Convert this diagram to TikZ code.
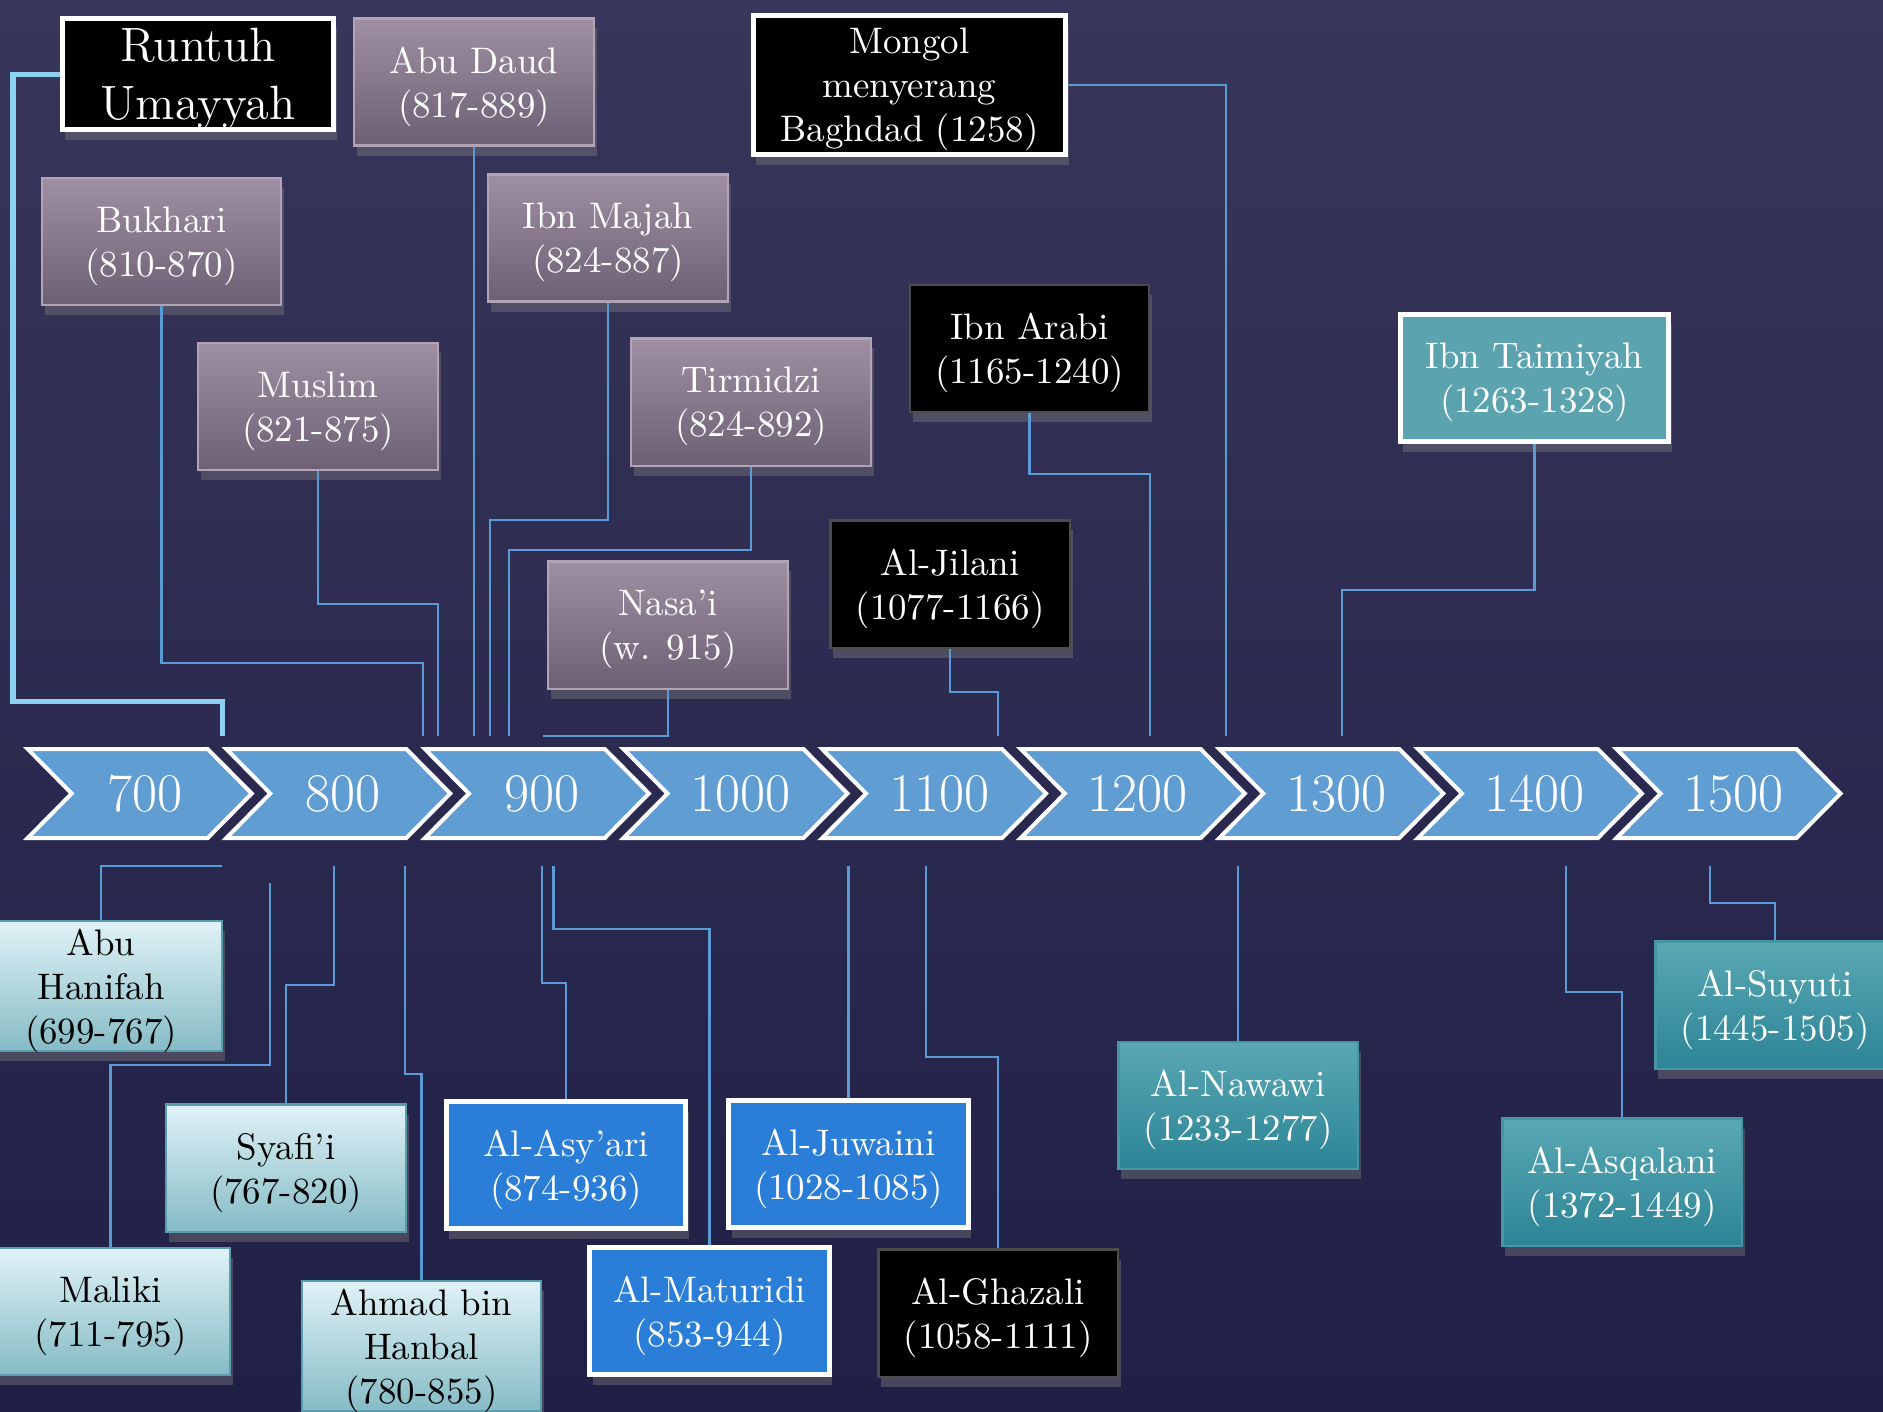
\documentclass[tikz,border=0pt]{standalone}
\usepackage{tikz}
\usetikzlibrary{shadows}

\definecolor{bgtop}{RGB}{56,54,90}
\definecolor{bgbot}{RGB}{32,31,70}
\definecolor{chevblue}{RGB}{96,157,210}
\definecolor{linkblue}{RGB}{91,155,213}
\definecolor{runtuhline}{RGB}{140,208,243}
\definecolor{mauvetop}{RGB}{158,143,163}
\definecolor{mauvebot}{RGB}{110,96,116}
\definecolor{mauveedge}{RGB}{178,164,182}
\definecolor{icetop}{RGB}{224,242,247}
\definecolor{icebot}{RGB}{133,187,197}
\definecolor{iceedge}{RGB}{88,158,172}
\definecolor{tealtop}{RGB}{90,168,180}
\definecolor{tealbot}{RGB}{44,132,150}
\definecolor{tealedge}{RGB}{70,150,165}
\definecolor{tealflat}{RGB}{92,163,176}
\definecolor{kalamblue}{RGB}{43,126,215}

\begin{document}
\begin{tikzpicture}[x=0.01cm,y=-0.01cm]
\tikzset{every node/.style={align=center,inner sep=0pt,font=\fontsize{10.5}{12.5}\selectfont}}
\tikzset{box/.style={minimum width=2.39cm,minimum height=1.27cm,text=white,text depth=0pt,
  drop shadow={opacity=0.4,shadow xshift=0.03cm,shadow yshift=-0.1cm}}}
\tikzset{hadithbox/.style={box,top color=mauvetop,bottom color=mauvebot,draw=mauveedge,line width=0.6pt}}
\tikzset{eventbox/.style={box,fill=black,draw=white,line width=0.05cm}}
\tikzset{sufibox/.style={box,fill=black,draw=black!70!white,line width=0.6pt}}
\tikzset{fiqhbox/.style={box,text=black,top color=icetop,bottom color=icebot,draw=iceedge,line width=0.6pt}}
\tikzset{kalambox/.style={box,fill=kalamblue,draw=white,line width=0.05cm}}
\tikzset{laterbox/.style={box,top color=tealtop,bottom color=tealbot,draw=tealedge,line width=0.6pt}}
\tikzset{chevron/.style={fill=chevblue,draw=white,line width=0.04cm}}
\tikzset{yearlabel/.style={text=white,font=\fontsize{15.5}{18}\selectfont}}
\tikzset{link/.style={draw=linkblue,line width=0.027cm}}
\tikzset{bigline/.style={draw=runtuhline,line width=0.05cm}}

\useasboundingbox (0,0) rectangle (1883,1411);
\clip (0,0) rectangle (1883,1411);
\shade[top color=bgtop,bottom color=bgbot] (0,0) rectangle (1883,1411);

\foreach \yr [count=\i from 0] in {700,800,...,1500}{
  \pgfmathsetmacro\L{27.7+198.6*\i}
  \draw[chevron] (\L,749) -- ++(180,0) -- ++(44,44.5) -- ++(-44,44.5) -- ++(-180,0) -- ++(44,-44.5) -- cycle;
  \node[yearlabel] (yr\yr) at (\L+117,793.5) {\yr};
}

\node[eventbox,minimum width=2.71cm,minimum height=1.11cm,font=\fontsize{13.7}{16.5}\selectfont] (runtuh) at (198,74) {Runtuh\\Umayyah};
\node[hadithbox] (abudaud) at (474,82) {Abu Daud\\(817-889)};
\node[hadithbox] (bukhari) at (161.5,241.5) {Bukhari\\(810-870)};
\node[hadithbox] (muslim) at (318,406.5) {Muslim\\(821-875)};
\node[hadithbox] (ibnmajah) at (608,238) {Ibn Majah\\(824-887)};
\node[hadithbox] (tirmidzi) at (751,402) {Tirmidzi\\(824-892)};
\node[hadithbox] (nasai) at (668,625) {Nasa’i\\(w. 915)};
\node[eventbox,minimum width=3.12cm,minimum height=1.39cm] (mongol) at (909.5,85) {Mongol\\menyerang\\Baghdad (1258)};
\node[sufibox] (ibnarabi) at (1029.5,348.5) {Ibn Arabi\\(1165-1240)};
\node[sufibox] (jilani) at (950,584) {Al-Jilani\\(1077-1166)};
\node[box,fill=tealflat,draw=white,line width=0.055cm,minimum width=2.68cm] (taimiyah) at (1534.5,378) {Ibn Taimiyah\\(1263-1328)};

\node[fiqhbox,minimum width=2.42cm,minimum height=1.3cm] (abuhanifah) at (101,986) {Abu\\Hanifah\\(699-767)};
\node[fiqhbox] (maliki) at (110.5,1311.5) {Maliki\\(711-795)};
\node[fiqhbox] (syafii) at (286,1168) {Syafi’i\\(767-820)};
\node[fiqhbox,minimum height=1.3cm] (ahmad) at (421.5,1346) {Ahmad bin\\Hanbal\\(780-855)};
\node[kalambox] (asyari) at (566,1165) {Al-Asy’ari\\(874-936)};
\node[kalambox] (maturidi) at (709.5,1311) {Al-Maturidi\\(853-944)};
\node[kalambox] (juwaini) at (848.5,1164) {Al-Juwaini\\(1028-1085)};
\node[sufibox] (ghazali) at (998,1313) {Al-Ghazali\\(1058-1111)};
\node[laterbox] (nawawi) at (1238,1105.5) {Al-Nawawi\\(1233-1277)};
\node[laterbox] (asqalani) at (1622,1182) {Al-Asqalani\\(1372-1449)};
\node[laterbox] (suyuti) at (1775,1005) {Al-Suyuti\\(1445-1505)};

\coordinate (t-runtuh) at (222,736);
\coordinate (t-bukhari) at (423,736);
\coordinate (t-muslim) at (438,736);
\coordinate (t-abudaud) at (474,736);
\coordinate (t-ibnmajah) at (490,736);
\coordinate (t-tirmidzi) at (509,736);
\coordinate (t-nasai) at (543,736);
\coordinate (t-jilani) at (998,736);
\coordinate (t-ibnarabi) at (1150,736);
\coordinate (t-mongol) at (1226,736);
\coordinate (t-taimiyah) at (1342,736);

\coordinate (b-abuhanifah) at (222,866);
\coordinate (b-maliki) at (270,883);
\coordinate (b-syafii) at (334,866);
\coordinate (b-ahmad) at (405,866);
\coordinate (b-asyari) at (542,866);
\coordinate (b-maturidi) at (553.6,866);
\coordinate (b-juwaini) at (848.5,866);
\coordinate (b-ghazali) at (926,866);
\coordinate (b-nawawi) at (1238,866);
\coordinate (b-asqalani) at (1566,866);
\coordinate (b-suyuti) at (1710,866);

\draw[bigline] (runtuh.west) -- (13,74) -- (13,701) -| (t-runtuh);
\draw[link] (bukhari.south) -- (bukhari.south |- 0,663) -| (t-bukhari);
\draw[link] (muslim.south) -- (muslim.south |- 0,604) -| (t-muslim);
\draw[link] (abudaud.south) -- (t-abudaud);
\draw[link] (ibnmajah.south) -- (ibnmajah.south |- 0,520) -| (t-ibnmajah);
\draw[link] (tirmidzi.south) -- (tirmidzi.south |- 0,550) -| (t-tirmidzi);
\draw[link] (nasai.south) |- (t-nasai);
\draw[link] (jilani.south) -- (jilani.south |- 0,692) -| (t-jilani);
\draw[link] (ibnarabi.south) -- (ibnarabi.south |- 0,474) -| (t-ibnarabi);
\draw[link] (mongol.east) -| (t-mongol);
\draw[link] (taimiyah.south) -- (taimiyah.south |- 0,590) -| (t-taimiyah);

\draw[link] (abuhanifah.north) |- (b-abuhanifah);
\draw[link] (maliki.north) -- (maliki.north |- 0,1065) -| (b-maliki);
\draw[link] (syafii.north) -- (syafii.north |- 0,985) -| (b-syafii);
\draw[link] (ahmad.north) -- (ahmad.north |- 0,1074) -| (b-ahmad);
\draw[link] (asyari.north) -- (asyari.north |- 0,983) -| (b-asyari);
\draw[link] (maturidi.north) -- (maturidi.north |- 0,929) -| (b-maturidi);
\draw[link] (juwaini.north) -- (b-juwaini);
\draw[link] (ghazali.north) -- (ghazali.north |- 0,1057) -| (b-ghazali);
\draw[link] (nawawi.north) -- (b-nawawi);
\draw[link] (asqalani.north) -- (asqalani.north |- 0,992) -| (b-asqalani);
\draw[link] (suyuti.north) -- (suyuti.north |- 0,903) -| (b-suyuti);
\end{tikzpicture}
\end{document}
